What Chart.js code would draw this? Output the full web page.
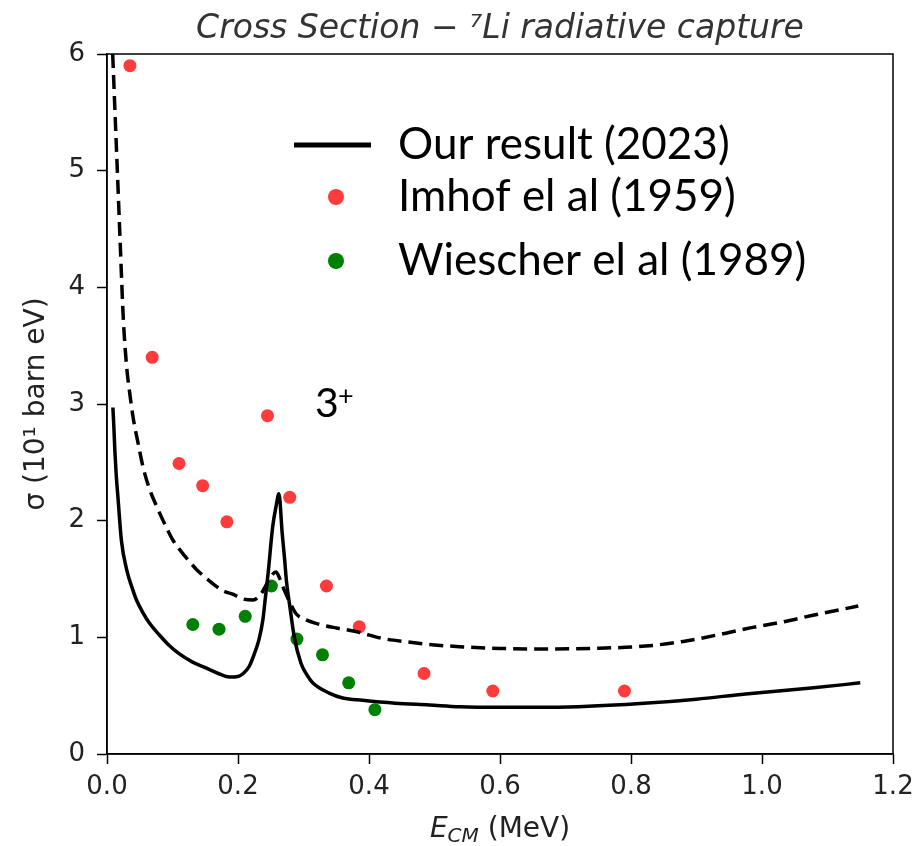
<!DOCTYPE html>
<html>
<head>
<meta charset="utf-8">
<script src="https://cdn.jsdelivr.net/npm/chart.js@4/dist/chart.umd.min.js"></script>
<style>
  html, body { margin: 0; background: #fff; }
  #wrap { width: 922px; height: 846px; position: relative; }
</style>
</head>
<body>
<div id="wrap"><canvas id="c"></canvas></div>
<script>
// ---- Data ----
var xTicks = [0, 0.2, 0.4, 0.6, 0.8, 1.0, 1.2];
var yTicks = [0, 1, 2, 3, 4, 5, 6];

// Our result (2023) — solid curve
var solidX = [0.009, 0.0105, 0.012, 0.014, 0.017, 0.022, 0.030, 0.038, 0.045, 0.055, 0.065, 0.080, 0.095, 0.110,
  0.130, 0.150, 0.170, 0.187, 0.200, 0.208, 0.217, 0.225, 0.232, 0.238, 0.242, 0.246, 0.253, 0.258, 0.2625,
  0.2675, 0.271, 0.274, 0.279, 0.286, 0.296, 0.305, 0.314, 0.340, 0.360, 0.390, 0.440, 0.492, 0.538, 0.600,
  0.650, 0.720, 0.820, 0.900, 0.975, 1.075, 1.150];
var solidY = [2.97, 2.80, 2.60, 2.40, 2.18, 1.83, 1.58, 1.43, 1.32, 1.21, 1.12, 1.02, 0.93, 0.86,
  0.79, 0.74, 0.69, 0.66, 0.665, 0.69, 0.75, 0.86, 0.98, 1.15, 1.35, 1.55, 1.95, 2.12, 2.23,
  1.89, 1.68, 1.48, 1.27, 1.00, 0.78, 0.68, 0.61, 0.52, 0.48, 0.46, 0.435, 0.42, 0.405, 0.40,
  0.40, 0.405, 0.434, 0.47, 0.515, 0.565, 0.61];

// second (dashed) curve, not in legend
var dashX = [0.0087, 0.012, 0.016, 0.020, 0.025, 0.030, 0.035, 0.040, 0.048, 0.055, 0.065, 0.076, 0.090, 0.101,
  0.120, 0.137, 0.155, 0.177, 0.192, 0.207, 0.223, 0.235, 0.243, 0.250, 0.258, 0.264, 0.271, 0.280, 0.289,
  0.300, 0.319, 0.350, 0.380, 0.421, 0.460, 0.500, 0.538, 0.600, 0.670, 0.740, 0.822, 0.880, 0.940, 0.974,
  1.030, 1.076, 1.147];
var dashY = [6.0, 5.53, 4.97, 4.40, 3.72, 3.32, 3.08, 2.88, 2.65, 2.46, 2.27, 2.12, 1.95, 1.83,
  1.69, 1.58, 1.49, 1.40, 1.37, 1.33, 1.32, 1.37, 1.45, 1.52, 1.56, 1.50, 1.40, 1.29, 1.20,
  1.16, 1.12, 1.08, 1.05, 0.99, 0.96, 0.935, 0.92, 0.905, 0.90, 0.905, 0.925, 0.965, 1.03, 1.072,
  1.13, 1.187, 1.268];

// Imhof el al (1959)
var imhofX = [0.035, 0.069, 0.110, 0.146, 0.183, 0.245, 0.279, 0.335, 0.385, 0.484, 0.589, 0.790];
var imhofY = [5.90, 3.40, 2.49, 2.30, 1.99, 2.90, 2.20, 1.44, 1.09, 0.69, 0.54, 0.54];

// Wiescher el al (1989)
var wieschX = [0.131, 0.171, 0.211, 0.251, 0.290, 0.329, 0.369, 0.409];
var wieschY = [1.11, 1.07, 1.18, 1.44, 0.985, 0.85, 0.61, 0.38];

var RED = '#ff3b3b', GREEN = '#008000', INK = '#222';
var TICK_FONT = { family: 'DejaVu Sans', size: 26 };

function pts(xs, ys) { return xs.map(function (x, i) { return { x: x, y: ys[i] }; }); }

// ---- Plugins ----
// top + right spines (Chart.js only draws the axis borders)
var frame = {
  id: 'frame',
  beforeDatasetsDraw: function (chart) {
    var a = chart.chartArea, ctx = chart.ctx;
    ctx.save();
    ctx.strokeStyle = '#000'; ctx.lineWidth = 1.5;
    ctx.strokeRect(a.left, a.top, a.right - a.left, a.bottom - a.top);
    ctx.restore();
  }
};

// legend drawn inside the axes, matplotlib style
var insideLegend = {
  id: 'insideLegend',
  afterDraw: function (chart) {
    var ctx = chart.ctx;
    var rows = [145, 197, 261]; // row centres
    ctx.save();
    ctx.font = '44px Lato';
    ctx.fillStyle = '#000';
    ctx.textBaseline = 'alphabetic';
    var entries = chart.data.datasets.filter(function (d) { return d.label; });
    entries.forEach(function (d, i) {
      var cy = rows[i];
      if (d.showLine) {
        ctx.strokeStyle = d.borderColor; ctx.lineWidth = 5;
        ctx.beginPath(); ctx.moveTo(294, cy); ctx.lineTo(371, cy); ctx.stroke();
      } else {
        ctx.fillStyle = d.backgroundColor;
        ctx.beginPath(); ctx.arc(336, cy, 8, 0, Math.PI * 2); ctx.fill();
      }
      ctx.fillStyle = '#000';
      ctx.fillText(d.label, 398, cy + 14);
    });
    // resonance label
    ctx.font = '41px Lato';
    ctx.fillText('3', 315, 417);
    ctx.font = '27px Lato';
    ctx.fillText('+', 338, 405);
    ctx.restore();
  }
};

// x-axis label with subscript
var xLabel = {
  id: 'xLabel',
  afterDraw: function (chart) {
    var ctx = chart.ctx, a = chart.chartArea;
    var base = 837;
    ctx.save();
    ctx.fillStyle = INK;
    ctx.textBaseline = 'alphabetic';
    var fE = 'italic 28px DejaVu Sans', fS = 'italic 20px DejaVu Sans', fR = '28px DejaVu Sans';
    ctx.font = fE; var wE = ctx.measureText('E').width;
    ctx.font = fS; var wS = ctx.measureText('CM').width;
    ctx.font = fR; var wR = ctx.measureText(' (MeV)').width;
    var x = (a.left + a.right) / 2 - (wE + wS + wR) / 2;
    ctx.font = fE; ctx.fillText('E', x, base); x += wE;
    ctx.font = fS; ctx.fillText('CM', x, base + 5); x += wS;
    ctx.font = fR; ctx.fillText(' (MeV)', x, base);
    ctx.restore();
  }
};

new Chart(document.getElementById('c'), {
  type: 'scatter',
  data: {
    datasets: [
      { label: 'Our result (2023)', data: pts(solidX, solidY), showLine: true, borderColor: '#000',
        borderWidth: 3.5, pointRadius: 0, cubicInterpolationMode: 'monotone', fill: false },
      { label: '', data: pts(dashX, dashY), showLine: true, borderColor: '#000', borderWidth: 3.5,
        borderDash: [14, 7], pointRadius: 0, cubicInterpolationMode: 'monotone', fill: false },
      { label: 'Imhof el al (1959)', data: pts(imhofX, imhofY), backgroundColor: RED, borderWidth: 0,
        pointRadius: 6.5, pointHoverRadius: 6.5 },
      { label: 'Wiescher el al (1989)', data: pts(wieschX, wieschY), backgroundColor: GREEN, borderWidth: 0,
        pointRadius: 6.5, pointHoverRadius: 6.5 }
    ]
  },
  options: {
    responsive: true, maintainAspectRatio: false, animation: false,
    layout: { padding: { left: 0, right: 29, top: 0, bottom: 0 } },
    plugins: {
      legend: { display: false },
      tooltip: { enabled: false },
      title: {
        display: true, fullSize: false,
        text: 'Cross Section \u2212 \u2077Li radiative capture',
        color: '#333', font: { family: 'DejaVu Sans', style: 'italic', size: 33, weight: 'normal' },
        padding: { top: 10, bottom: 4.4 }
      }
    },
    scales: {
      x: {
        type: 'linear', min: 0, max: 1.2,
        afterBuildTicks: function (s) { s.ticks = xTicks.map(function (v) { return { value: v }; }); },
        afterFit: function (s) { s.height = 92; },
        ticks: { font: TICK_FONT, color: INK, padding: 8, maxRotation: 0,
          callback: function (v) { return Number(v).toFixed(1); } },
        grid: { drawOnChartArea: false, tickLength: 10, tickColor: '#000', tickWidth: 1.5 },
        border: { color: '#000', width: 1.5 }
      },
      y: {
        type: 'linear', min: 0, max: 6,
        afterBuildTicks: function (s) { s.ticks = yTicks.map(function (v) { return { value: v }; }); },
        afterFit: function (s) { s.width = 107; },
        ticks: { font: TICK_FONT, color: INK, padding: 12 },
        grid: { drawOnChartArea: false, tickLength: 10, tickColor: '#000', tickWidth: 1.5 },
        border: { color: '#000', width: 1.5 },
        title: { display: true, text: '\u03c3 (10\u00b9 barn eV)', color: INK,
          font: { family: 'DejaVu Sans', size: 28 }, padding: { top: 20, bottom: 0 } }
      }
    }
  },
  plugins: [frame, insideLegend, xLabel]
});
</script>
</body>
</html>
